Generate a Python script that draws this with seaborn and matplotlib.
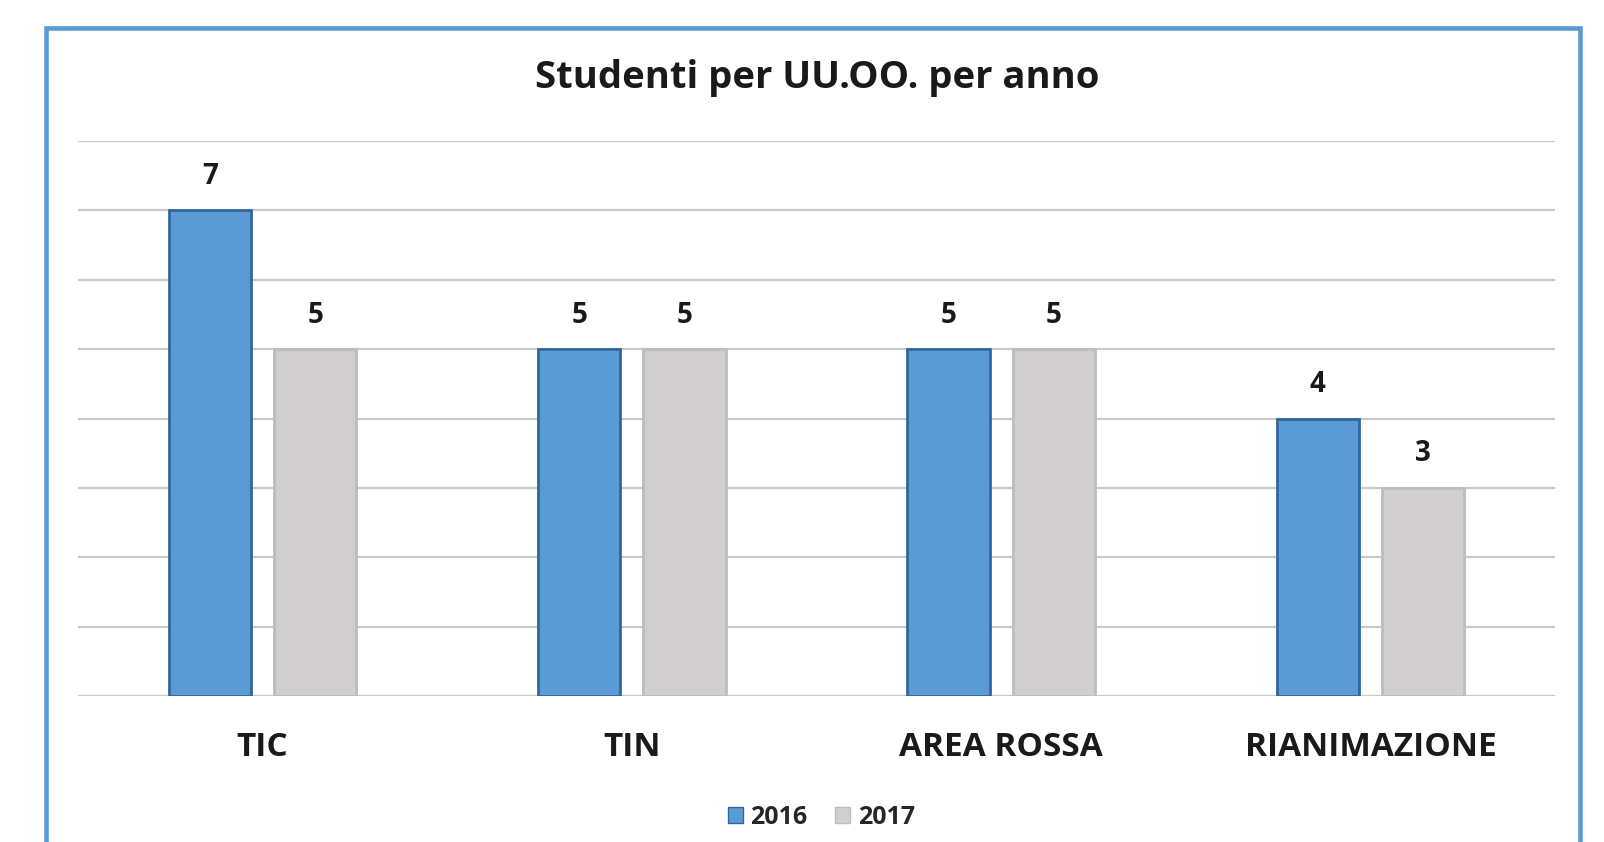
import matplotlib
matplotlib.use("Agg")
import matplotlib.pyplot as plt
import matplotlib.patches as mpatches
import pandas as pd
import seaborn as sns

categories = ["TIC", "TIN", "AREA ROSSA", "RIANIMAZIONE"]
years = ["2016", "2017"]
values_2016 = [7, 5, 5, 4]
values_2017 = [5, 5, 5, 3]

colors = {"2016": "#5b9bd5", "2017": "#d0cece"}
edges = {"2016": "#33679b", "2017": "#bdbdbd"}

df = pd.DataFrame({
    "categoria": categories * 2,
    "anno": ["2016"] * len(categories) + ["2017"] * len(categories),
    "studenti": values_2016 + values_2017,
})

sns.set_style("white")
plt.rcParams["font.family"] = ["Open Sans", "DejaVu Sans"]

fig = plt.figure(figsize=(16.04, 8.42), dpi=100)
ax = fig.add_axes([78 / 1604, 146 / 842, 1477 / 1604, 555 / 842])

sns.barplot(data=df, x="categoria", y="studenti", hue="anno", order=categories,
            hue_order=years, palette=colors, width=0.57, gap=0.22,
            saturation=1, ax=ax, legend=False)

for cont, yr in zip(ax.containers, years):
    for bar in cont:
        bar.set_edgecolor(edges[yr])
        bar.set_linewidth(2)
    ax.bar_label(cont, fmt="%d", padding=14, fontsize=20, fontweight="bold", color="#1a1a1a")

ax.set_ylim(0, 8)
ax.set_xlim(-0.5, 3.5)
ax.set_yticks(range(0, 9))
ax.set_yticklabels([])
ax.yaxis.grid(True, color="#c9c9c9", linewidth=1.6)
ax.set_axisbelow(True)
ax.tick_params(axis="y", length=0)
ax.tick_params(axis="x", length=0, pad=25, labelsize=24)
for lbl in ax.get_xticklabels():
    lbl.set_fontweight("bold")
    lbl.set_color("#1a1a1a")
ax.set_xlabel("")
ax.set_ylabel("")
sns.despine(ax=ax, left=True, bottom=True)

fig.text(0.5095, 1 - 78 / 842, "Studenti per UU.OO. per anno", ha="center", va="center",
         fontsize=27.5, fontweight="bold", color="#1a1a1a")

handles = [mpatches.Patch(facecolor=colors[y], edgecolor=edges[y], label=y) for y in years]
leg = fig.legend(handles=handles, loc="center", bbox_to_anchor=(0.512, 1 - 817 / 842), ncol=2,
                 frameon=False, handlelength=0.6, handleheight=0.6, handletextpad=0.3,
                 columnspacing=1.1, prop={"weight": "bold", "size": 18})

border = mpatches.Rectangle((46 / 1604, -0.05), 1534 / 1604, 1.05 - 28.5 / 842,
                            transform=fig.transFigure, fill=False,
                            edgecolor="#5b9bd5", linewidth=3.3)
fig.patches.append(border)

fig.savefig("out.png", dpi=100)
